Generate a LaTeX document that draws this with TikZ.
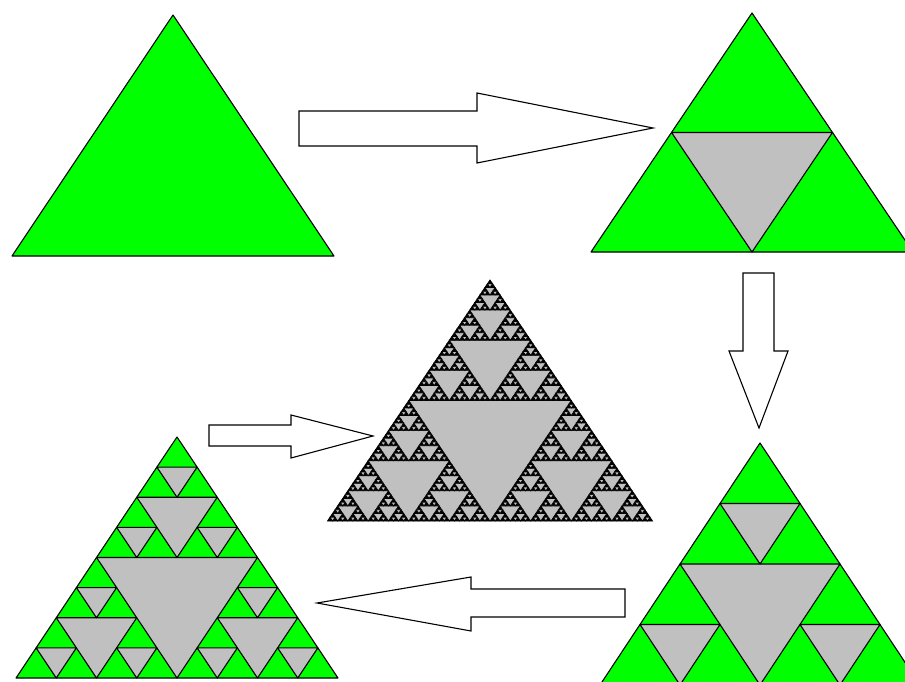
\documentclass[tikz,border=0pt]{standalone}
\usepackage{tikz}

\definecolor{leaf}{RGB}{0,255,0}
\definecolor{hole}{RGB}{192,192,192}

\tikzset{
  greentri/.style={fill=leaf, draw=black, line width=1.1pt, line join=round},
  greenhole/.style={fill=hole, draw=black, line width=1.1pt, line join=round},
  darktri/.style={fill=black, draw=black, line width=0.8pt},
  darkhole/.style={fill=hole, draw=black, line width=0.7pt},
  blockarrow/.style={fill=white, draw=black, line width=1.1pt, line join=miter}
}

% \sierpholes{style}{depth}{apex x}{apex y}{half width}{height}
% cuts the inverted middle triangle and recurses into the three corners
\newcommand\sierpholes[6]{%
  \ifnum#2>0
    \begingroup
      \pgfmathsetmacro\hw{#5/2}%
      \pgfmathsetmacro\hh{#6/2}%
      \pgfmathsetmacro\xl{#3-\hw}%
      \pgfmathsetmacro\xr{#3+\hw}%
      \pgfmathsetmacro\ym{#4+\hh}%
      \pgfmathsetmacro\yb{#4+#6}%
      \path[#1] (\xl,\ym) -- (\xr,\ym) -- (#3,\yb) -- cycle;
      \pgfmathtruncatemacro\dd{#2-1}%
      \edef\next{%
        \noexpand\sierpholes{#1}{\dd}{#3}{#4}{\hw}{\hh}%
        \noexpand\sierpholes{#1}{\dd}{\xl}{\ym}{\hw}{\hh}%
        \noexpand\sierpholes{#1}{\dd}{\xr}{\ym}{\hw}{\hh}}%
      \next
    \endgroup
  \fi}

% \gasket{base style}{hole style}{depth}{apex x}{apex y}{half width}{height}
\newcommand\gasket[7]{%
  \path[#1] (#4,#5) -- ({#4+#6},{#5+#7}) -- ({#4-#6},{#5+#7}) -- cycle;
  \sierpholes{#2}{#3}{#4}{#5}{#6}{#7}}

\begin{document}
\begin{tikzpicture}[x=1pt, y=-1pt]
  \useasboundingbox (0,0) rectangle (905,682);
  \fill[white] (0,0) rectangle (905,682);
  \clip (0,0) rectangle (905,682);

  % stage 0 .. 3 and the limit figure
  \gasket{greentri}{greenhole}{0}{173}{15}{161}{241}
  \gasket{greentri}{greenhole}{1}{752}{13}{161}{239}
  \gasket{greentri}{greenhole}{2}{760}{443}{160}{242}
  \gasket{greentri}{greenhole}{3}{177}{437}{161}{241}
  \gasket{darktri}{darkhole}{6}{490}{280}{162.5}{241}

  % block arrows between the stages
  \draw[blockarrow] (299,111) -- (477,111) -- (477,93) -- (653,128)
        -- (477,163) -- (477,146) -- (299,146) -- cycle;
  \draw[blockarrow] (743,273) -- (774,273) -- (774,351) -- (788,351)
        -- (759,428) -- (729,351) -- (743,351) -- cycle;
  \draw[blockarrow] (625,589) -- (471,589) -- (471,577) -- (317,603)
        -- (471,631) -- (471,617) -- (625,617) -- cycle;
  \draw[blockarrow] (209,425) -- (291,425) -- (291,415) -- (373,436)
        -- (291,458) -- (291,446) -- (209,446) -- cycle;
\end{tikzpicture}
\end{document}
